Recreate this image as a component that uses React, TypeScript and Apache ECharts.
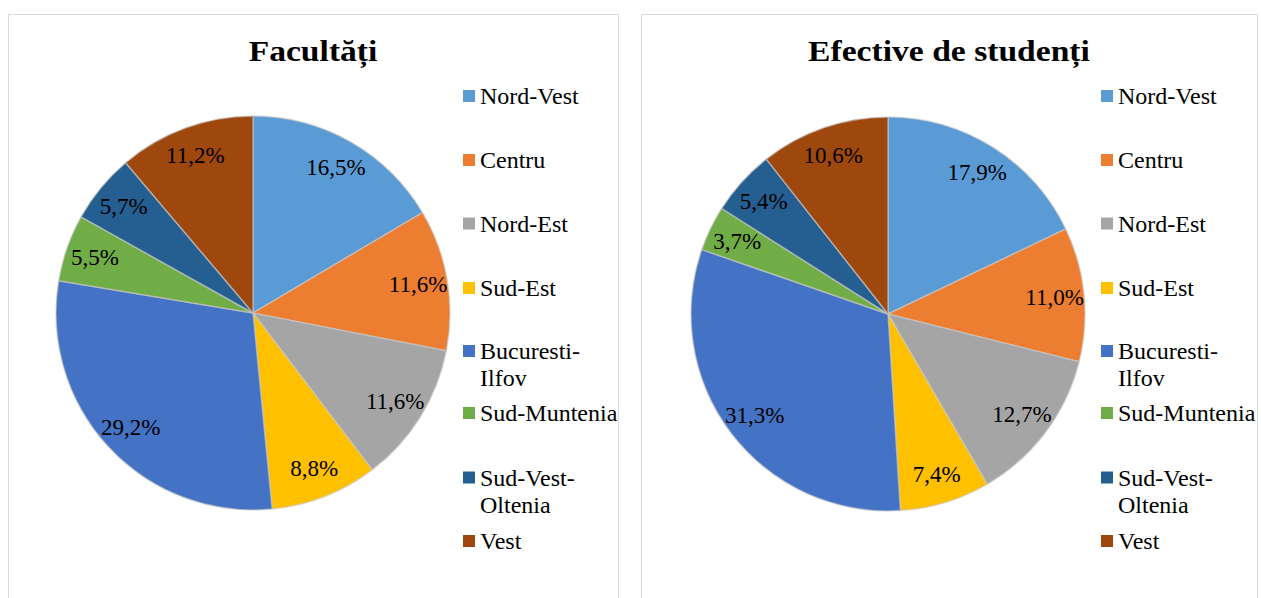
import React, { useEffect, useRef } from "react";
import * as echarts from "echarts";

const categories = [
  "Nord-Vest",
  "Centru",
  "Nord-Est",
  "Sud-Est",
  "Bucuresti-Ilfov",
  "Sud-Muntenia",
  "Sud-Vest-Oltenia",
  "Vest",
];
const legendLabels = [
  "Nord-Vest",
  "Centru",
  "Nord-Est",
  "Sud-Est",
  "Bucuresti-\nIlfov",
  "Sud-Muntenia",
  "Sud-Vest-\nOltenia",
  "Vest",
];
const facultatiValues = [16.5, 11.6, 11.6, 8.8, 29.2, 5.5, 5.7, 11.2];
const studentiValues = [17.9, 11.0, 12.7, 7.4, 31.3, 3.7, 5.4, 10.6];
const titles = ["Facultăți", "Efective de studenți"];
const colors = [
  "#5B9BD5",
  "#ED7D31",
  "#A5A5A5",
  "#FFC000",
  "#4472C4",
  "#70AD47",
  "#255E91",
  "#9E480E",
];

const FONT = "Liberation Serif";

export default function App() {
  const ref = useRef<HTMLDivElement>(null);
  useEffect(() => {
    if (!ref.current) return;
    const chart = echarts.init(ref.current, null, { renderer: "svg" });

    const panels = [
      { values: facultatiValues, cx: 253, cy: 313, left: 8, right: 618, legendX: 463 },
      { values: studentiValues, cx: 888, cy: 314, left: 641, right: 1257, legendX: 1101 },
    ];
    const R = 197;
    const iconCenters = [96, 160, 223.5, 288, 351, 413, 477.5, 541];
    const LH = 27;

    const series: any[] = [];
    const legends: any[] = [];
    const graphics: any[] = [];

    panels.forEach((p, pi) => {
      const data = categories.map((name, i) => ({
        name,
        value: p.values[i],
        itemStyle: { color: colors[i] },
      }));
      series.push({
        type: "pie",
        center: [p.cx, p.cy],
        radius: [0, R],
        startAngle: 90,
        clockwise: true,
        data,
        label: { show: false },
        labelLine: { show: false },
        itemStyle: { borderColor: "rgba(200,200,200,0.6)", borderWidth: 1.5 },
        emphasis: { disabled: true },
        silent: true,
      });
      series.push({
        type: "pie",
        center: [p.cx, p.cy],
        radius: [R * 0.67, R],
        startAngle: 90,
        clockwise: true,
        data: categories.map((name, i) => ({ name, value: p.values[i] })),
        itemStyle: { color: "rgba(0,0,0,0)", borderWidth: 0 },
        label: {
          show: true,
          position: "inside",
          fontFamily: FONT,
          fontSize: 23,
          color: "#000",
          formatter: (prm: any) => prm.value.toFixed(1).replace(".", ",") + "%",
        },
        labelLine: { show: false },
        emphasis: { disabled: true },
        silent: true,
      });

      categories.forEach((name, i) => {
        const two = legendLabels[i].includes("\n");
        const top = two ? iconCenters[i] - 40.5 : iconCenters[i] - 13.5;
        legends.push({
          data: [name],
          left: p.legendX,
          top,
          padding: 0,
          icon: "rect",
          itemWidth: 12,
          itemHeight: 12,
          itemStyle: { borderWidth: 0 },
          selectedMode: false,
          formatter: () => (two ? " \n" + legendLabels[i] : legendLabels[i]),
          textStyle: {
            fontFamily: FONT,
            fontSize: 24,
            color: "#000",
            lineHeight: LH,
          },
        });
      });

      graphics.push({
        type: "rect",
        shape: { x: p.left + 0.5, y: 14.5, width: p.right - p.left, height: 600 },
        style: { fill: "none", stroke: "#d9d9d9", lineWidth: 1 },
        silent: true,
        z: -10,
      });
      graphics.push({
        type: "text",
        x: (p.left + p.right) / 2,
        y: 51,
        scaleX: 1.12,
        style: {
          text: titles[pi],
          fontFamily: FONT,
          fontWeight: "bold",
          fontSize: 30,
          fill: "#000",
          textAlign: "center",
          textVerticalAlign: "middle",
        },
        silent: true,
      });
    });

    chart.setOption({
      animation: false,
      backgroundColor: "#fff",
      legend: legends,
      series,
      graphic: graphics,
    });

    return () => chart.dispose();
  }, []);

  return (
    <div
      ref={ref}
      style={{ position: "absolute", left: 0, top: 0, width: 1261, height: 598 }}
    />
  );
}
